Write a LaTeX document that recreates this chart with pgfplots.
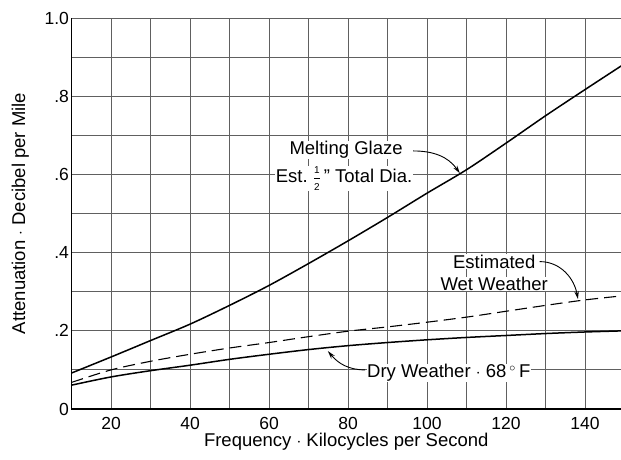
\documentclass[border=0pt]{standalone}
\usepackage{pgfplots}
\pgfplotsset{compat=1.18}
\usepackage{fontspec}
\setmainfont{Liberation Sans}
\usetikzlibrary{arrows.meta}
\begin{document}
\begin{tikzpicture}
\useasboundingbox (-71.5pt,-50pt) rectangle (549.5pt,409pt);
\begin{axis}[
  name=ax, at={(0,0)}, anchor=south west,
  scale only axis, width=549.5pt, height=391pt,
  xmin=10, xmax=149.1, ymin=0, ymax=1.0,
  xtick={20,40,...,140},
  minor xtick={10,30,...,150},
  ytick={0,0.2,0.4,0.6,0.8,1.0},
  yticklabels={0,.2,.4,.6,.8,1.0},
  minor ytick={0.1,0.3,0.5,0.7,0.9},
  grid=both,
  major grid style={gray!75!black, line width=0.9pt},
  minor grid style={gray!75!black, line width=0.9pt},
  major tick length=0pt, minor tick length=0pt,
  axis x line*=bottom, axis y line*=left,
  axis line style={black, line width=1.1pt, -},
  /pgf/number format/assume math mode=true,
  tick label style={font=\fontsize{17.5}{20}\selectfont},
  xticklabel style={anchor=center, yshift=-14pt},
  yticklabel style={xshift=1pt},
  label style={font=\fontsize{18.5}{22}\selectfont},
  xlabel={Frequency $\cdot$ Kilocycles per Second},
  ylabel={Attenuation $\cdot$ Decibel per Mile},
  xlabel style={at={(axis description cs:0.5,-0.083)}, anchor=center},
  ylabel style={at={(axis description cs:-0.093,0.5)}, anchor=center},
  clip=true,
]
\addplot[black, line width=1.5pt, smooth] coordinates {
(10,0.092) (20,0.133) (30,0.175) (40,0.217) (50,0.265) (60,0.316) (70,0.372)
(80,0.430) (90,0.490) (100,0.552) (110,0.612) (120,0.680) (130,0.750) (140,0.817) (150,0.883)};
\addplot[black, line width=1.1pt, smooth, dash pattern=on 12pt off 6pt] coordinates {
(10,0.068) (20,0.100) (30,0.122) (40,0.140) (50,0.156) (60,0.170) (70,0.185)
(80,0.199) (90,0.210) (100,0.222) (110,0.235) (120,0.250) (130,0.265) (140,0.279) (150,0.290)};
\addplot[black, line width=1.5pt, smooth] coordinates {
(10,0.061) (20,0.082) (30,0.098) (40,0.112) (50,0.127) (60,0.140) (70,0.152)
(80,0.162) (90,0.170) (100,0.177) (110,0.183) (120,0.188) (130,0.193) (140,0.197) (150,0.200)};

\node[fill=white, inner sep=0.5pt, font=\fontsize{18.5}{22}\selectfont] at (axis cs:79.5,0.663) {Melting Glaze};
\node[fill=white, inner sep=0.5pt, font=\fontsize{18.5}{22}\selectfont] at (axis cs:79,0.589) {Est.~$\frac{\rule[-4pt]{0pt}{4pt}\mbox{\fontsize{10}{11}\selectfont 1}}{\rule{0pt}{12pt}\mbox{\fontsize{10}{11}\selectfont 2}}$\hspace{3pt}''~Total Dia.};
\node[fill=white, inner sep=0.5pt, font=\fontsize{18.5}{22}\selectfont] at (axis cs:117,0.377) {Estimated};
\node[fill=white, inner sep=0.5pt, font=\fontsize{18.5}{22}\selectfont] at (axis cs:117,0.320) {Wet Weather};
\node[fill=white, inner sep=0.5pt, font=\fontsize{18.5}{22}\selectfont] at (axis cs:105.5,0.093) {Dry Weather $\cdot$ 68\,$^\circ$\,F};

\draw[line width=0.9pt, -{Stealth[length=8pt,width=4.5pt]}] (axis cs:96.5,0.660) to[out=0,in=125] (axis cs:108.3,0.603);
\draw[line width=0.9pt, -{Stealth[length=8pt,width=4.5pt]}] (axis cs:128.5,0.377) to[out=0,in=100] (axis cs:138.2,0.281);
\draw[line width=0.9pt, -{Stealth[length=8pt,width=4.5pt]}] (axis cs:84.3,0.10) to[out=180,in=-50] (axis cs:74.9,0.148);
\end{axis}
\end{tikzpicture}
\end{document}
